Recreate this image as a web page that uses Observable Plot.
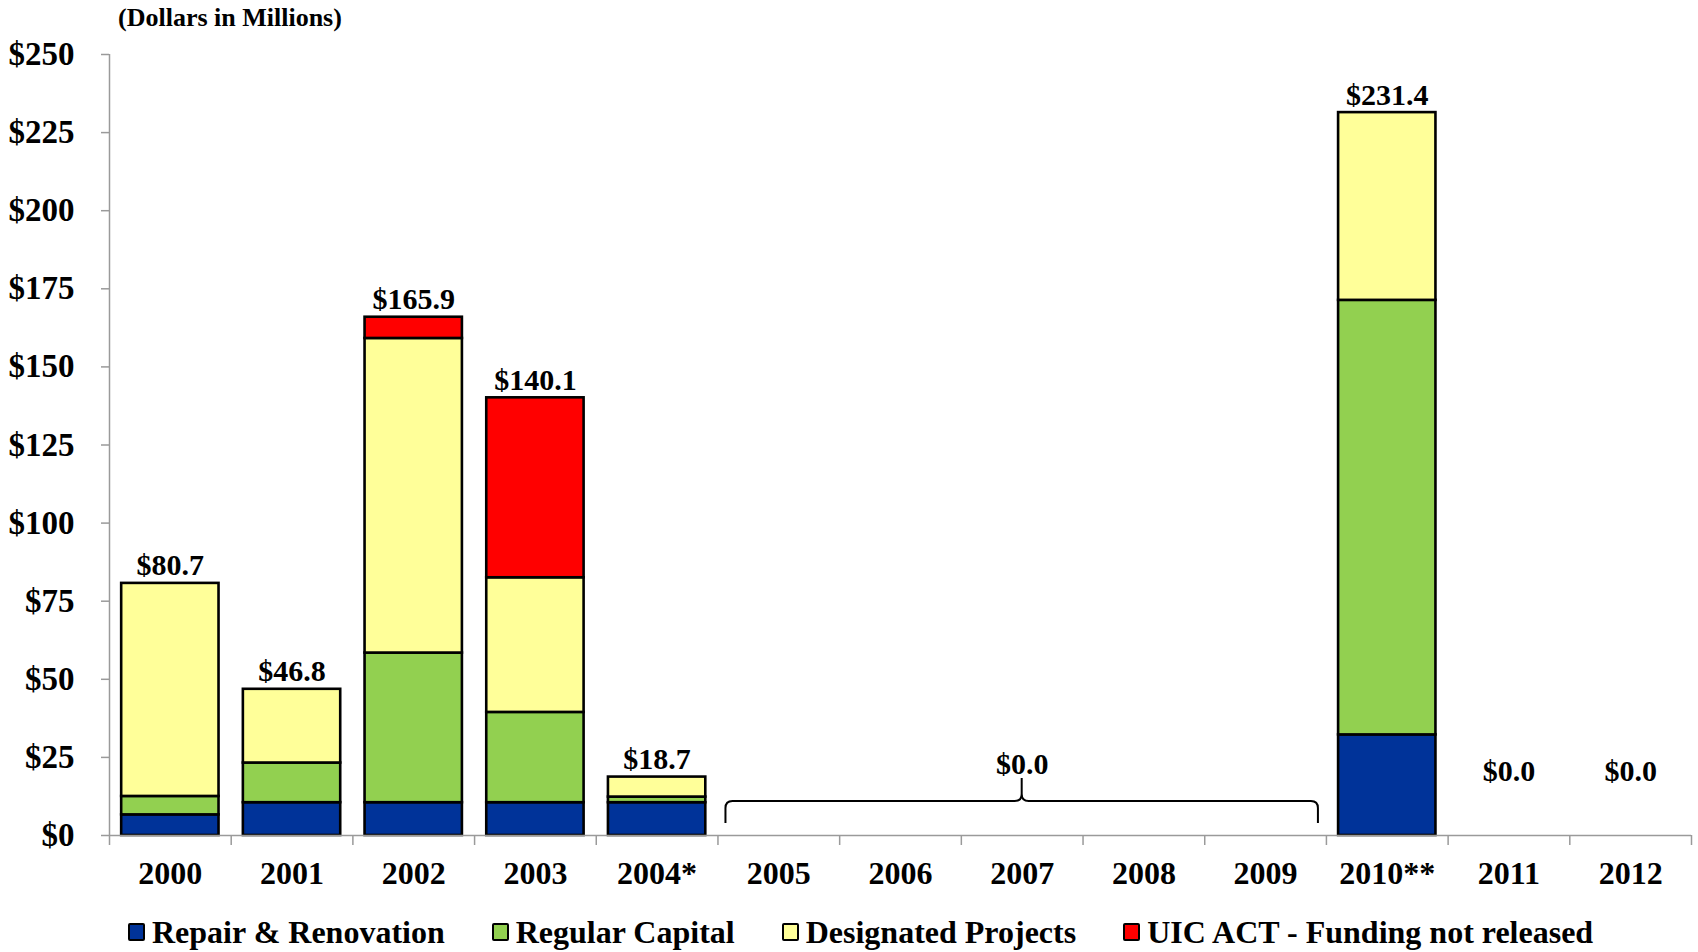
<!DOCTYPE html>
<html>
<head>
<meta charset="utf-8">
<script src="https://cdn.jsdelivr.net/npm/d3@7"></script>
<script src="https://cdn.jsdelivr.net/npm/@observablehq/plot@0.6"></script>
<style>
  html, body { margin: 0; padding: 0; background: #fff; }
  #wrap { position: relative; width: 1698px; height: 952px; font-family: "Liberation Serif", "Times New Roman", serif; font-weight: bold; color: #000; }
  #title { position: absolute; left: 118px; top: 3px; font-size: 26px; line-height: 30px; }
  #chart { position: absolute; left: 0; top: 36px; }
  #chart svg text { font-weight: bold; }
  #legend { position: absolute; left: 128px; top: 910px; height: 44px; display: flex; align-items: center; gap: 47px; font-size: 32px; }
  .item { display: flex; align-items: center; gap: 7px; white-space: nowrap; }
  .sw { width: 13px; height: 14px; border: 2px solid #000; border-radius: 2px; }
</style>
</head>
<body>
<div id="wrap">
  <div id="title">(Dollars in Millions)</div>
  <div id="chart"></div>
  <div id="legend"></div>
</div>
<script>
const years = ["2000","2001","2002","2003","2004*","2005","2006","2007","2008","2009","2010**","2011","2012"];
const repair     = [6.6, 10.5, 10.5, 10.5, 10.5, 0, 0, 0, 0, 0, 32.2, 0, 0];
const regular    = [5.9, 12.7, 47.9, 28.9, 1.8, 0, 0, 0, 0, 0, 139.1, 0, 0];
const designated = [68.2, 23.6, 100.7, 43.1, 6.4, 0, 0, 0, 0, 0, 60.1, 0, 0];
const uic        = [0, 0, 6.8, 57.6, 0, 0, 0, 0, 0, 0, 0, 0, 0];
const bracketedYears = ["2005","2006","2007","2008","2009"];
const seriesNames = ["Repair & Renovation", "Regular Capital", "Designated Projects", "UIC ACT - Funding not released"];
const seriesColors = ["#003399", "#92D050", "#FFFF99", "#FF0000"];
const yTicks = [0, 25, 50, 75, 100, 125, 150, 175, 200, 225, 250];

const seriesValues = [repair, regular, designated, uic];

// stacked segments
const segments = [];
years.forEach((yr, i) => {
  let cum = 0;
  seriesValues.forEach((vals, s) => {
    const v = vals[i];
    if (v > 0) {
      segments.push({i, y1: cum, y2: cum + v, series: seriesNames[s]});
      cum += v;
    }
  });
});
const totals = years.map((_, i) => seriesValues.reduce((a, vals) => a + vals[i], 0));
const fmt = v => "$" + (Math.round(v * 10) / 10).toFixed(1);

const posLabels = totals.map((t, i) => ({i, t})).filter(d => d.t > 0);
const bIdx = bracketedYears.map(y => years.indexOf(y));
const bStart = d3.min(bIdx), bEnd = d3.max(bIdx);
const bracketSum = d3.sum(bIdx, i => totals[i]);
const groupZero = [{i: (bStart + bEnd) / 2, t: bracketSum, start: bStart, end: bEnd}];
const singleZero = totals.map((t, i) => ({i, t})).filter(d => d.t === 0 && !bIdx.includes(d.i));

const boundaries = d3.range(-0.5, years.length, 1);
const centers = d3.range(0, years.length);

function braceMark(...args) {
  const scales = args.find(a => a && typeof a === "object" && typeof a.x === "function" && typeof a.y === "function");
  if (!scales) return null;
  const {x, y} = scales;
  const g = document.createElementNS("http://www.w3.org/2000/svg", "g");
  groupZero.forEach(r => {
    const xa = x(r.start - 0.5) + 8, xb = x(r.end + 0.5) - 8, xm = x(r.i);
    const y0 = y(0);
    const yEnd = y0 - 12, yLine = y0 - 34, yPeak = y0 - 57, rr = 7;
    const d = `M${xa},${yEnd} L${xa},${yLine + rr} Q${xa},${yLine} ${xa + rr},${yLine} L${xm - rr},${yLine} Q${xm},${yLine} ${xm},${yLine - rr} L${xm},${yPeak}` +
              ` M${xb},${yEnd} L${xb},${yLine + rr} Q${xb},${yLine} ${xb - rr},${yLine} L${xm + rr},${yLine} Q${xm},${yLine} ${xm},${yLine - rr}`;
    const p = document.createElementNS("http://www.w3.org/2000/svg", "path");
    p.setAttribute("d", d);
    p.setAttribute("fill", "none");
    p.setAttribute("stroke", "#000");
    p.setAttribute("stroke-width", "2");
    g.appendChild(p);
  });
  return g;
}

const plot = Plot.plot({
  width: 1698,
  height: 864,
  marginTop: 18,
  marginBottom: 65,
  marginLeft: 109,
  marginRight: 7,
  style: {fontFamily: "'Liberation Serif', 'Times New Roman', serif", color: "#000", background: "#fff", overflow: "visible"},
  x: {type: "linear", domain: [-0.5, years.length - 0.5], axis: null, label: null},
  y: {domain: [0, 250], axis: null, label: null},
  color: {domain: seriesNames, range: seriesColors},
  marks: [
    Plot.ruleX([-0.5], {y1: 0, y2: 250, stroke: "#9a9a9a", strokeWidth: 1.5}),
    Plot.axisY({ticks: yTicks, tickFormat: d => "$" + d, tickSize: 8, tickPadding: 27, fontSize: 33, fontWeight: "bold", stroke: "#9a9a9a", fill: "#000", strokeWidth: 1.5, label: null}),
    Plot.axisX({ticks: boundaries, tickFormat: () => "", tickSize: 10, stroke: "#9a9a9a", strokeWidth: 1.5, label: null}),
    Plot.axisX({ticks: centers, tickFormat: i => years[i], tickSize: 0, tickPadding: 26, fontSize: 32, fontWeight: "bold", fill: "#000", label: null}),
    Plot.rectY(segments, {x1: d => d.i - 0.4, x2: d => d.i + 0.4, y1: "y1", y2: "y2", fill: "series", stroke: "#000", strokeWidth: 2.6}),
    Plot.ruleY([0], {stroke: "#9a9a9a", strokeWidth: 1.5}),
    Plot.text(posLabels, {x: "i", y: "t", text: d => fmt(d.t), dy: -8, lineAnchor: "bottom", fontSize: 30, fontWeight: "bold", fill: "#000"}),
    Plot.text(singleZero, {x: "i", y: "t", text: d => fmt(d.t), dy: -55, lineAnchor: "bottom", fontSize: 30, fontWeight: "bold", fill: "#000"}),
    Plot.text(groupZero, {x: "i", y: "t", text: d => fmt(d.t), dy: -62, lineAnchor: "bottom", fontSize: 30, fontWeight: "bold", fill: "#000"}),
    braceMark
  ]
});
document.getElementById("chart").appendChild(plot);

const legend = document.getElementById("legend");
seriesNames.forEach((name, s) => {
  const item = document.createElement("div");
  item.className = "item";
  const sw = document.createElement("div");
  sw.className = "sw";
  sw.style.background = seriesColors[s];
  const t = document.createElement("span");
  t.textContent = name;
  item.appendChild(sw);
  item.appendChild(t);
  legend.appendChild(item);
});
</script>
</body>
</html>
